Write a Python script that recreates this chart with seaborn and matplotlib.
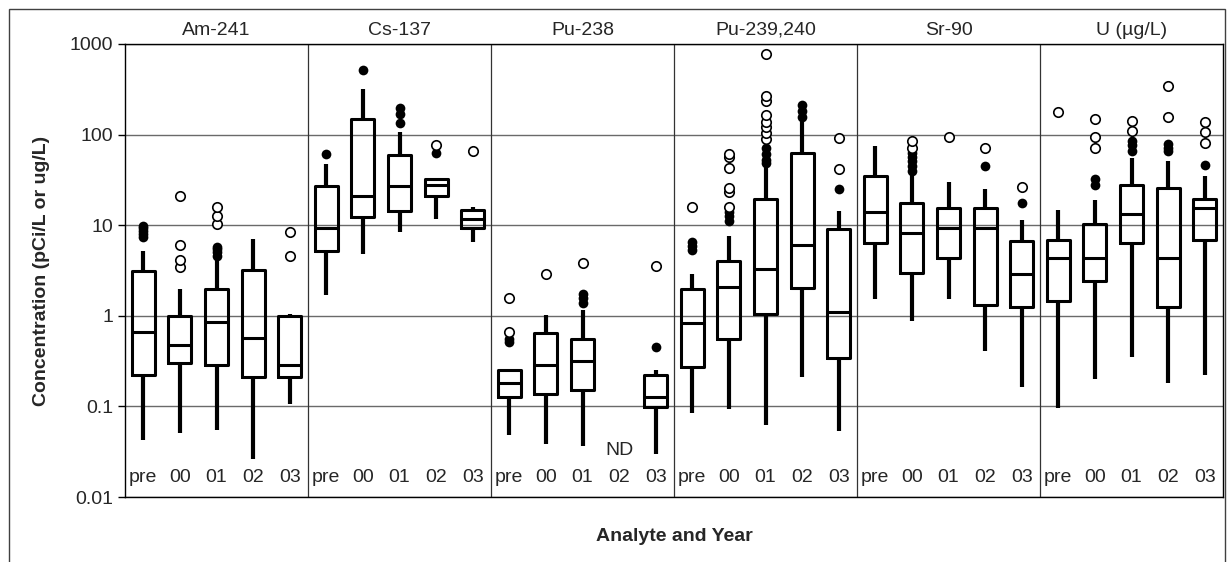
import numpy as np
import pandas as pd
import seaborn as sns
import matplotlib.pyplot as plt
import matplotlib.transforms as mtransforms
from matplotlib.patches import Rectangle
from matplotlib.ticker import FixedLocator, NullLocator, FuncFormatter

# Values (None = not detected)
analytes = ['Am-241', 'Cs-137', 'Pu-238', 'Pu-239,240', 'Sr-90', 'U (µg/L)']
years = ['pre', '00', '01', '02', '03']

whisker_low = [
    [0.043, 0.051, 0.055, 0.026, 0.107],
    [1.7, 4.8, 8.5, 11.7, 6.6],
    [0.048, 0.038, 0.037, None, 0.030],
    [0.085, 0.094, 0.063, 0.21, 0.053],
    [1.55, 0.87, 1.55, 0.41, 0.165],
    [0.096, 0.20, 0.35, 0.18, 0.22],
]
q1 = [
    [0.22, 0.30, 0.29, 0.21, 0.21],
    [5.2, 12.2, 14.4, 21, 9.2],
    [0.126, 0.137, 0.15, None, 0.098],
    [0.27, 0.55, 1.04, 2.05, 0.34],
    [6.3, 3.0, 4.4, 1.32, 1.24],
    [1.45, 2.45, 6.4, 1.24, 6.8],
]
median = [
    [0.67, 0.48, 0.86, 0.57, 0.29],
    [9.2, 21, 27, 28, 11.7],
    [0.18, 0.29, 0.32, None, 0.128],
    [0.84, 2.1, 3.3, 6.0, 1.09],
    [14.1, 8.2, 9.2, 9.2, 2.9],
    [4.4, 4.4, 13.3, 4.4, 15.5],
]
q3 = [
    [3.1, 1.0, 2.0, 3.2, 1.0],
    [27, 148, 60, 32, 14.7],
    [0.25, 0.64, 0.56, None, 0.22],
    [2.0, 4.0, 19.4, 62, 9.0],
    [34.5, 17.4, 15.3, 15.6, 6.7],
    [6.8, 10.4, 28, 26, 19.5],
]
whisker_high = [
    [5.2, 2.0, 4.3, 7.1, 1.05],
    [47, 316, 107, 33, 16],
    [0.25, 1.02, 1.15, None, 0.25],
    [2.9, 7.6, 45, 150, 14.4],
    [74, 38, 30, 25, 11.4],
    [14.6, 19, 55, 51, 35],
]

# outliers (filled dots) and extremes (open circles)
outliers = [
    [[7.4, 8.0, 8.7, 9.4, 9.9], [], [4.6, 5.0, 5.4, 5.8], [], []],
    [[61], [520], [135, 167, 199], [63], []],
    [[0.52, 0.55], [], [1.4, 1.57, 1.76], [], [0.45]],
    [[5.3, 5.9, 6.6], [11.2, 12.7, 14.0], [48, 53, 61, 72], [158, 182, 210], [25]],
    [[], [40, 45, 51, 57, 63], [], [45], [17.5]],
    [[], [28, 32], [66, 77, 85], [66, 71, 78], [46]],
]
extremes = [
    [[], [3.5, 4.1, 6.0, 21], [10.2, 12.6, 16], [], [4.6, 8.4]],
    [[], [], [], [77], [66]],
    [[0.67, 1.59], [2.9], [3.8], [], [3.55]],
    [[16], [15.7, 23.5, 26, 43, 56, 61], [90, 105, 120, 138, 163, 235, 270, 780], [], [42, 91]],
    [[], [72, 84], [93], [72], [26.5]],
    [[176], [71, 94, 148], [109, 142], [156, 341], [80, 107, 137]],
]

# Build long tables: 5 points per box give exact quartiles with whis=inf
order = [f'{a}|{y}' for a in analytes for y in years]
box_rows, out_rows, ext_rows = [], [], []
for i, a in enumerate(analytes):
    for j, y in enumerate(years):
        g = f'{a}|{y}'
        stats = [whisker_low[i][j], q1[i][j], median[i][j], q3[i][j], whisker_high[i][j]]
        if stats[0] is not None:
            box_rows += [(g, v) for v in stats]
        out_rows += [(g, v) for v in outliers[i][j]]
        ext_rows += [(g, v) for v in extremes[i][j]]
box_df = pd.DataFrame(box_rows, columns=['group', 'value'])
out_df = pd.DataFrame(out_rows, columns=['group', 'value'])
ext_df = pd.DataFrame(ext_rows, columns=['group', 'value'])

sns.set_theme(style='white')
plt.rcParams['font.family'] = ['Liberation Sans', 'DejaVu Sans']

fig = plt.figure(figsize=(12.27, 5.62), dpi=100)
ax = fig.add_axes([125 / 1227, 65 / 562, 1098 / 1227, 453 / 562])

sns.boxplot(data=box_df, x='group', y='value', order=order, whis=np.inf,
            width=0.63, fill=False, color='black', linecolor='black',
            linewidth=2.2, showcaps=False, log_scale=True,
            whiskerprops={'linewidth': 3}, ax=ax)
sns.stripplot(data=out_df, x='group', y='value', order=order, jitter=False,
              color='black', size=7, log_scale=True, ax=ax)
sns.stripplot(data=ext_df, x='group', y='value', order=order, jitter=False,
              color='white', edgecolor='black', linewidth=1.2, size=6.8,
              log_scale=True, ax=ax)

ax.set_xlim(-0.5, len(order) - 0.5)
ax.set_ylim(0.01, 1000)
ax.yaxis.set_major_locator(FixedLocator([0.01, 0.1, 1, 10, 100, 1000]))
ax.yaxis.set_minor_locator(NullLocator())
ax.yaxis.set_major_formatter(FuncFormatter(lambda v, p: f'{v:g}'))
ax.grid(axis='y', which='major', color='#6a6a6a', linewidth=1)
ax.set_axisbelow(True)
ax.tick_params(axis='y', length=5, width=1, color='black', labelsize=14, left=True)

ax.set_xticks(range(len(order)))
ax.set_xticklabels(years * len(analytes), fontsize=14)
ax.tick_params(axis='x', length=0, pad=-20)

for s in ax.spines.values():
    s.set_visible(True)
    s.set_color('black')
    s.set_linewidth(1)

trans = mtransforms.blended_transform_factory(ax.transData, ax.transAxes)
for k, a in enumerate(analytes):
    if k > 0:
        ax.axvline(5 * k - 0.5, color='#333333', linewidth=0.9)
    ax.text(5 * k + 2, 1.012, a, transform=trans, ha='center', va='bottom', fontsize=14)

# Pu-238 in 2002 was not detected
ax.text(order.index('Pu-238|02'), 0.033, 'ND', ha='center', va='center', fontsize=14)

ax.set_xlabel('Analyte and Year', fontsize=14, fontweight='bold', labelpad=22)
ax.set_ylabel('Concentration (pCi/L or ug/L)', fontsize=14, fontweight='bold', labelpad=14)

fig.patches.append(Rectangle((9 / 1227, -0.05), 1216 / 1227, 1.05 - 9 / 562,
                             transform=fig.transFigure, fill=False,
                             edgecolor='#404040', linewidth=1))

fig.savefig('out.png', dpi=100)
